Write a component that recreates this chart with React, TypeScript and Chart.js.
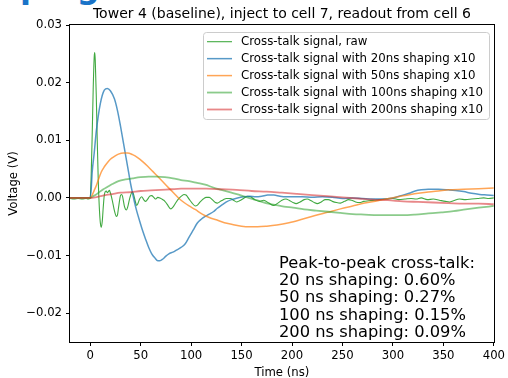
import { useEffect, useRef } from "react";
import { Chart, registerables } from "chart.js";

Chart.register(...registerables);

const HEADING_HEAD = "Sha";
const HEADING_TAIL = "ping";
const TITLE = "Tower 4 (baseline), inject to cell 7, readout from cell 6";
const X_LABEL = "Time (ns)";
const Y_LABEL = "Voltage (V)";

const xTicks = [0, 50, 100, 150, 200, 250, 300, 350, 400];
const yTicks = [-0.02, -0.01, 0, 0.01, 0.02, 0.03];
const yTickLabels = ["\u22120.02", "\u22120.01", "0.00", "0.01", "0.02", "0.03"];

const seriesLabels = [
  "Cross-talk signal, raw",
  "Cross-talk signal with 20ns shaping x10",
  "Cross-talk signal with 50ns shaping x10",
  "Cross-talk signal with 100ns shaping x10",
  "Cross-talk signal with 200ns shaping x10",
];

const annotationLines = [
  "Peak-to-peak cross-talk:",
  "20 ns shaping: 0.60%",
  "50 ns shaping: 0.27%",
  "100 ns shaping: 0.15%",
  "200 ns shaping: 0.09%",
];

const tRaw = [-20, -16, -12, -8, -4, -2, 0, 1, 2, 3, 4, 4.5, 5, 6, 7, 8, 9, 10, 11, 12, 13, 14, 15, 16, 17, 18, 19, 20, 22, 24, 26, 27, 28, 30, 31, 32, 34, 36, 37, 39, 41, 42, 43, 45, 46, 47, 49, 51, 53, 55, 57, 59, 61, 63, 65, 67, 69, 71, 73, 75, 77, 79, 80, 82, 85, 88, 91, 93, 95, 98, 101, 104, 106, 109, 112, 115, 118, 121, 124, 126, 129, 132, 135, 139, 142, 145, 148, 152, 156, 159, 163, 168, 172, 177, 182, 186, 190, 194, 197, 201, 204, 208, 212, 215, 219, 222, 225, 229, 233, 236, 240, 244, 248, 252, 256, 259, 263, 267, 271, 276, 282, 288, 294, 300, 306, 312, 318, 323, 328, 334, 340, 346, 352, 356, 360, 366, 372, 378, 384, 390, 395, 400];
const vRaw = [-0.0001, -0.0002, -0.0001, -0.0002, -0.0001, -0.0002, 0.0, 0.004, 0.011, 0.019, 0.0245, 0.0252, 0.024, 0.018, 0.01, 0.003, -0.0015, -0.0042, -0.0051, -0.004, -0.0015, 0.0005, 0.0011, 0.0012, 0.0009, 0.0011, 0.0013, 0.0009, -0.0005, -0.0022, -0.0032, -0.003, -0.0018, 0.0004, 0.0006, 0.0003, -0.0015, -0.0021, -0.0017, -0.0002, 0.0009, 0.001, 0.0006, -0.0008, -0.0013, -0.0011, -0.0002, 0.0002, -0.0003, -0.0006, -0.0002, 0.0003, 0.0004, 0.0001, -0.0002, 0.0001, 0.0, -0.0002, -0.0004, -0.0008, -0.0013, -0.0018, -0.0019, -0.0016, -0.0008, -0.0001, 0.0004, 0.0006, 0.0005, -0.0002, -0.0009, -0.0014, -0.0013, -0.0007, -0.0002, 0.0001, 0.0001, -0.0003, -0.0008, -0.0009, -0.0006, -0.0003, -0.0001, -0.0001, -0.0004, -0.0007, -0.0005, -0.0001, 0.0003, 0.0002, -0.0003, -0.0006, -0.0004, -0.0009, -0.0013, -0.0009, -0.0004, -0.0002, -0.0004, -0.0008, -0.001, -0.0007, -0.0003, -0.0002, -0.0005, -0.0008, -0.001, -0.0007, -0.0003, -0.0003, -0.0006, -0.0008, -0.0009, -0.0006, -0.0003, -0.0004, -0.0007, -0.0008, -0.0006, -0.0005, -0.0004, -0.0003, -0.0002, -0.0001, -0.0003, -0.0002, -0.0001, -0.0002, 0.0, -0.0003, -0.0002, -0.0004, -0.0006, -0.0007, -0.0005, -0.0002, -0.0003, -0.0002, -0.0001, 0.0, -0.0001, 0.0];

const t20 = [-20, 0, 1, 2, 4, 6, 8, 10, 12, 14, 17, 20, 24, 27, 30, 33, 36, 38, 40, 42, 44, 46, 49, 52, 55, 58, 61, 64, 67, 69, 72, 75, 78, 82, 86, 90, 94, 98, 102, 106, 110, 114, 118, 122, 126, 130, 135, 140, 146, 152, 158, 164, 170, 176, 182, 188, 194, 200, 210, 220, 230, 240, 250, 260, 270, 280, 290, 300, 308, 316, 322, 328, 335, 345, 355, 362, 370, 378, 386, 393, 400];
const v20 = [0, 0, 0.0015, 0.0045, 0.0078, 0.0115, 0.0142, 0.0163, 0.0178, 0.0187, 0.019, 0.0186, 0.0172, 0.0152, 0.0125, 0.0095, 0.0065, 0.0045, 0.0025, 0.0008, -0.0008, -0.0022, -0.004, -0.0057, -0.0072, -0.0086, -0.0097, -0.0104, -0.0109, -0.0109, -0.0106, -0.0101, -0.0097, -0.0094, -0.009, -0.0086, -0.008, -0.0068, -0.0056, -0.0044, -0.0037, -0.0032, -0.0028, -0.0024, -0.0018, -0.0013, -0.0007, -0.0003, 0.0, 0.0002, 0.0003, 0.0002, 0.0003, 0.0005, 0.0005, 0.0003, 0.0002, 0.0002, 0.0002, 0.0001, 0.0002, 0.0001, -0.0001, 0.0, -0.0001, -0.0002, -0.0002, 0.0, 0.0004, 0.0008, 0.0012, 0.0014, 0.0015, 0.0015, 0.0014, 0.0013, 0.0011, 0.0008, 0.0006, 0.0005, 0.0004];

const t50 = [-20, 0, 2, 4, 6, 8, 11, 14, 17, 20, 24, 28, 33, 37, 42, 47, 52, 57, 62, 67, 72, 78, 83, 88, 93, 98, 104, 111, 118, 125, 133, 141, 150, 158, 166, 175, 185, 197, 210, 222, 235, 248, 260, 272, 285, 299, 312, 325, 340, 355, 370, 385, 400];
const v50 = [0, 0, 0.0005, 0.0013, 0.0021, 0.0031, 0.0045, 0.0054, 0.0061, 0.0067, 0.0072, 0.0076, 0.0078, 0.0078, 0.0075, 0.007, 0.0063, 0.0055, 0.0046, 0.0037, 0.0028, 0.0017, 0.0008, -0.0001, -0.0008, -0.0014, -0.002, -0.0028, -0.0034, -0.0038, -0.0043, -0.0046, -0.0049, -0.005, -0.005, -0.0049, -0.0047, -0.0043, -0.0037, -0.0031, -0.0025, -0.0019, -0.0014, -0.0009, -0.0005, 0.0, 0.0004, 0.0008, 0.0011, 0.0014, 0.0015, 0.0016, 0.0017];

const t100 = [-20, 0, 3, 6, 9, 13, 17, 22, 28, 35, 42, 50, 58, 66, 74, 82, 90, 98, 106, 114, 122, 130, 140, 150, 157, 165, 174, 183, 192, 201, 212, 224, 236, 248, 260, 272, 285, 298, 310, 322, 335, 348, 360, 372, 385, 400];
const v100 = [0, 0, 0.0003, 0.0006, 0.001, 0.0015, 0.0019, 0.0024, 0.0029, 0.0032, 0.0034, 0.0036, 0.0037, 0.0037, 0.0036, 0.0034, 0.0031, 0.0029, 0.0026, 0.0023, 0.0018, 0.0014, 0.0009, 0.0004, 0.0, -0.0004, -0.0009, -0.0012, -0.0015, -0.0017, -0.002, -0.0022, -0.0024, -0.0026, -0.0028, -0.0029, -0.003, -0.003, -0.003, -0.0029, -0.0027, -0.0025, -0.0023, -0.002, -0.0017, -0.0014];

const t200 = [-20, 0, 5, 10, 15, 20, 30, 40, 50, 60, 70, 80, 90, 100, 115, 130, 145, 160, 175, 190, 205, 220, 235, 250, 265, 280, 295, 310, 325, 340, 355, 370, 385, 400];
const v200 = [0, 0, 0.0001, 0.0003, 0.0005, 0.0006, 0.0009, 0.001, 0.0012, 0.0013, 0.0014, 0.0015, 0.0016, 0.0016, 0.0016, 0.0015, 0.0014, 0.0012, 0.0011, 0.0009, 0.0007, 0.0005, 0.0003, 0.0001, -0.0001, -0.0003, -0.0004, -0.0006, -0.0007, -0.0008, -0.0009, -0.001, -0.001, -0.0011];

const FONT = "'DejaVu Sans', sans-serif";

const overlayPlugin = {
  id: "overlay",
  afterDatasetsDraw(chart: any) {
    const { ctx, chartArea } = chart;
    ctx.save();
    ctx.strokeStyle = "#000";
    ctx.lineWidth = 1;
    ctx.strokeRect(
      Math.round(chartArea.left) - 0.5,
      Math.round(chartArea.top) - 0.5,
      Math.round(chartArea.right - chartArea.left) + 1,
      Math.round(chartArea.bottom - chartArea.top) + 1
    );
    ctx.restore();
  },
  afterDraw(chart: any) {
    const { ctx, chartArea } = chart;
    ctx.save();
    // title
    ctx.font = "14px " + FONT;
    ctx.fillStyle = "#000";
    ctx.textAlign = "center";
    ctx.textBaseline = "alphabetic";
    ctx.fillText(TITLE, (chartArea.left + chartArea.right) / 2, 18.2);
    // legend box
    const bx = 203.5, by = 32.5, bw = 286, bh = 87;
    ctx.beginPath();
    ctx.roundRect(bx, by, bw, bh, 3);
    ctx.fillStyle = "rgba(255,255,255,0.8)";
    ctx.fill();
    ctx.strokeStyle = "#cccccc";
    ctx.lineWidth = 1;
    ctx.stroke();
    ctx.font = "11.8px " + FONT;
    ctx.textBaseline = "middle";
    ctx.textAlign = "left";
    chart.data.datasets.forEach((ds: any, i: number) => {
      const y = 41.7 + i * 16.95;
      ctx.beginPath();
      ctx.strokeStyle = ds.borderColor;
      ctx.lineWidth = ds.borderWidth;
      ctx.moveTo(207, y);
      ctx.lineTo(232, y);
      ctx.stroke();
      ctx.fillStyle = "#000";
      ctx.fillText(ds.label, 241, y);
    });
    // annotation
    ctx.font = "16.3px " + FONT;
    ctx.textBaseline = "alphabetic";
    ctx.fillStyle = "#000";
    annotationLines.forEach((line, i) => {
      ctx.fillText(line, 279, 267.6 + i * 17.35);
    });
    ctx.restore();
  },
};

export default function App() {
  const ref = useRef<HTMLCanvasElement>(null);
  useEffect(() => {
    if (!ref.current) return;
    Chart.defaults.font.family = FONT;
    Chart.defaults.color = "#000";
    const mk = (t: number[], v: number[]) => t.map((x, i) => ({ x, y: v[i] }));
    const chart = new Chart(ref.current, {
      type: "line",
      data: {
        datasets: [
          { label: seriesLabels[0], data: mk(tRaw, vRaw), borderColor: "rgba(44,160,44,0.9)", borderWidth: 1.1, order: 4 },
          { label: seriesLabels[1], data: mk(t20, v20), borderColor: "rgba(31,119,180,0.75)", borderWidth: 1.5, order: 3 },
          { label: seriesLabels[2], data: mk(t50, v50), borderColor: "rgba(255,127,14,0.7)", borderWidth: 1.5, order: 2 },
          { label: seriesLabels[3], data: mk(t100, v100), borderColor: "rgba(44,160,44,0.55)", borderWidth: 1.8, order: 1 },
          { label: seriesLabels[4], data: mk(t200, v200), borderColor: "rgba(214,39,40,0.55)", borderWidth: 1.8, order: 0 },
        ] as any,
      },
      options: {
        responsive: false,
        animation: false,
        devicePixelRatio: 1,
        layout: { padding: { left: 0, right: 13, top: 25, bottom: 0 } },
        elements: { point: { radius: 0 }, line: { cubicInterpolationMode: "monotone" } },
        plugins: {
          legend: { display: false },
          tooltip: { enabled: false },
          title: { display: false },
        },
        scales: {
          x: {
            type: "linear",
            min: -20,
            max: 400,
            afterBuildTicks: (s: any) => {
              s.ticks = xTicks.map((v) => ({ value: v }));
            },
            afterFit: (s: any) => {
              s.height = 36;
            },
            grid: { drawOnChartArea: false, drawTicks: true, tickLength: 4, color: "#000" },
            border: { display: false },
            ticks: { color: "#000", font: { size: 11.7, family: FONT }, padding: 3, maxRotation: 0, autoSkip: false },
            title: { display: true, text: X_LABEL, color: "#000", font: { size: 11.7, family: FONT }, padding: { top: 0, bottom: -1.5 } },
          },
          y: {
            type: "linear",
            min: -0.025,
            max: 0.03,
            afterBuildTicks: (s: any) => {
              s.ticks = yTicks.map((v) => ({ value: v }));
            },
            afterFit: (s: any) => {
              s.width = 70;
            },
            grid: { drawOnChartArea: false, drawTicks: true, tickLength: 4, color: "#000" },
            border: { display: false },
            ticks: {
              color: "#000",
              font: { size: 11.7, family: FONT },
              padding: 4,
              autoSkip: false,
              callback: (value: any) => {
                const i = yTicks.indexOf(Number(value));
                return i >= 0 ? yTickLabels[i] : "";
              },
            },
            title: { display: true, text: Y_LABEL, color: "#000", font: { size: 11.7, family: FONT }, padding: { top: 7, bottom: 0 } },
          },
        },
      } as any,
      plugins: [overlayPlugin],
    });
    return () => chart.destroy();
  }, []);

  const headingStyle: any = {
    position: "absolute",
    top: -29,
    fontFamily: FONT,
    fontWeight: "bold",
    fontSize: 32,
    lineHeight: "32px",
    color: "#1a73c8",
    whiteSpace: "nowrap",
  };

  return (
    <div style={{ position: "absolute", left: 0, top: 0, width: 508, height: 378, background: "#fff", overflow: "hidden" }}>
      <span style={{ ...headingStyle, right: 488 }}>{HEADING_HEAD}</span>
      <span style={{ ...headingStyle, left: 20 }}>{HEADING_TAIL}</span>
      <canvas ref={ref} width={508} height={378} style={{ position: "absolute", left: 0, top: 0, width: 508, height: 378 }} />
    </div>
  );
}
